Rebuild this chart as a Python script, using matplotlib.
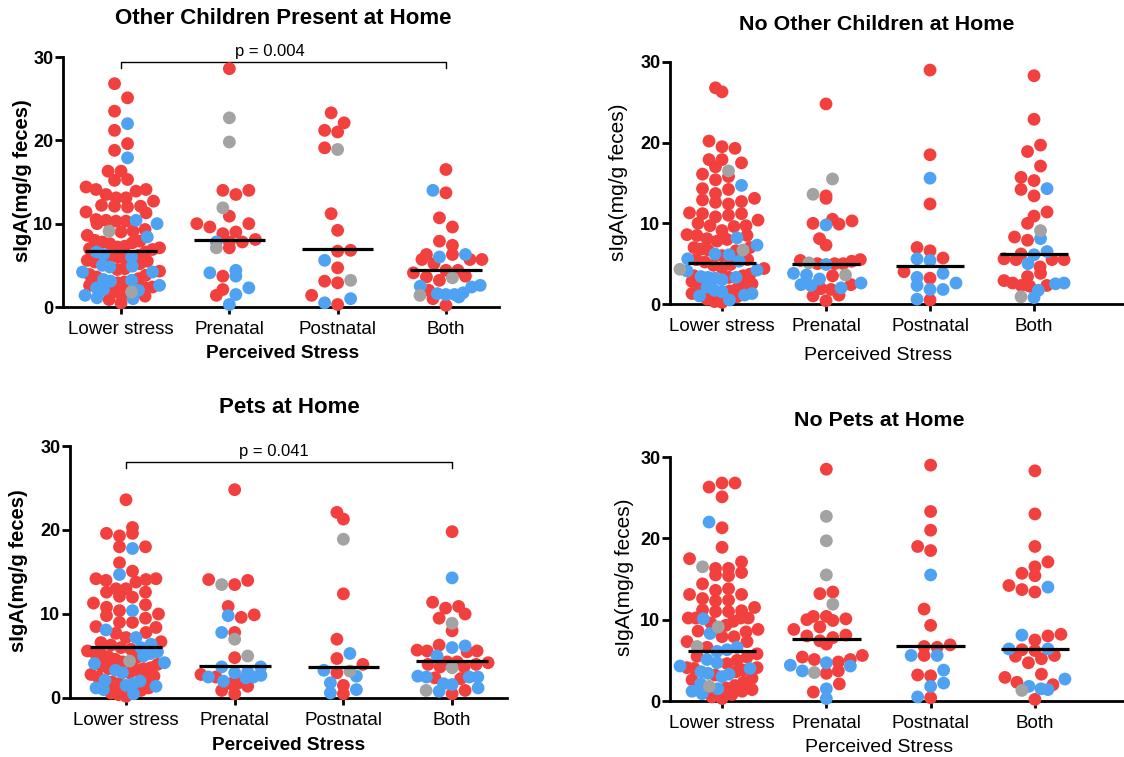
import numpy as np
import matplotlib
matplotlib.use('Agg')
import matplotlib.pyplot as plt

plt.rcParams['font.family'] = ['Liberation Sans', 'DejaVu Sans']

categories = ['Lower stress', 'Prenatal', 'Postnatal', 'Both']

# ---- values (sIgA, mg/g feces), one list per stress group ----
# Other children present at home
kids_red = [
    [26.8, 25.1, 23.5, 21.2, 19.6, 18.8, 16.3, 16.3, 15.3, 15.2, 14.4, 14.1, 13.9, 14.1, 13.5,
     13.1, 12.7, 13.1, 12.2, 12.1, 12.0, 12.1, 11.4, 11.3, 10.5, 10.4, 10.3, 10.3, 10.0, 9.3,
     9.1, 9.0, 8.6, 8.0, 7.9, 7.8, 7.7, 7.6, 7.3, 7.2, 7.1, 7.0, 6.9, 6.6, 6.2, 6.0, 6.1, 5.8,
     5.6, 5.5, 5.4, 5.2, 4.6, 4.5, 4.3, 3.9, 3.8, 3.6, 3.4, 3.0, 2.9, 2.6, 2.4, 2.3, 1.9, 1.8,
     1.6, 1.3, 0.9, 0.5],
    [28.6, 14.0, 13.5, 14.0, 10.9, 10.0, 10.0, 9.6, 9.0, 8.8, 8.1, 7.8, 7.8, 7.1, 3.7, 2.1, 1.4],
    [23.3, 22.1, 21.0, 21.2, 19.1, 11.2, 9.2, 6.8, 6.7, 4.7, 3.1, 2.9, 1.4, 0.3],
    [16.5, 13.7, 10.7, 9.6, 7.9, 7.4, 6.3, 6.3, 5.7, 5.7, 5.7, 5.2, 4.4, 4.4, 4.1, 3.7, 3.6,
     3.2, 2.0, 1.0, 0.2],
]
kids_blue = [
    [22.0, 17.9, 10.4, 10.0, 8.4, 6.6, 6.3, 6.0, 5.0, 4.9, 4.8, 4.2, 4.2, 3.3, 3.2, 3.1, 2.6,
     2.3, 2.1, 2.0, 1.4, 1.1, 1.0],
    [7.8, 4.1, 3.7, 4.4, 2.3, 1.5, 0.3],
    [5.6, 1.0, 0.5],
    [14.0, 6.0, 6.3, 2.6, 2.4, 2.5, 1.6, 1.5, 1.2, 1.5, 1.7],
]
kids_gray = [[9.1, 1.8], [22.7, 19.8, 11.9, 7.1], [18.9, 3.2], [3.5, 1.4]]
kids_median = [6.7, 8.0, 7.0, 4.4]

# No other children at home
nokids_red = [
    [26.8, 26.3, 20.2, 19.5, 19.3, 17.9, 17.9, 17.5, 17.0, 16.1, 15.8, 15.4, 14.3, 14.2, 13.7,
     13.1, 12.9, 12.7, 12.6, 12.4, 11.2, 11.2, 11.0, 11.3, 10.8, 10.4, 10.0, 9.7, 9.7, 9.6,
     9.1, 8.6, 8.0, 8.1, 8.5, 8.5, 7.8, 7.0, 6.7, 6.6, 6.8, 7.0, 6.0, 5.5, 5.5, 5.2, 4.9, 4.8,
     4.5, 4.4, 3.5, 3.3, 3.5, 3.7, 2.5, 2.4, 2.3, 2.8, 1.6, 1.3, 1.9, 0.6, 0.3, 0.9, 0.2],
    [24.8, 13.4, 13.1, 10.5, 10.3, 10.0, 9.9, 8.1, 7.3, 5.4, 5.0, 5.0, 5.0, 5.3, 5.5, 3.5,
     2.4, 1.8, 1.9, 1.1, 1.0, 0.4],
    [29.0, 18.5, 12.4, 7.0, 5.7, 6.6, 3.2, 4.0, 0.5],
    [28.3, 22.9, 19.7, 18.9, 17.1, 15.7, 15.3, 14.2, 13.4, 11.4, 10.9, 10.0, 7.9, 8.3, 6.2,
     5.5, 5.5, 4.6, 5.5, 5.6, 3.8, 3.4, 2.9, 2.3, 2.2, 2.3, 2.6],
]
nokids_blue = [
    [14.7, 8.2, 7.3, 6.2, 6.1, 5.6, 5.3, 4.1, 4.2, 3.3, 3.0, 3.2, 3.3, 3.4, 2.1, 1.5, 1.0,
     1.1, 1.3, 1.7, 0.5],
    [9.8, 4.9, 3.6, 3.8, 3.1, 2.3, 2.4, 2.6, 2.0],
    [15.6, 5.4, 5.6, 3.8, 2.6, 3.3, 2.3, 1.8, 1.8, 0.6],
    [14.3, 8.1, 6.5, 6.1, 5.0, 2.5, 2.6, 1.7, 0.8],
]
nokids_gray = [[16.5, 6.7, 4.3], [15.5, 13.6, 5.1, 3.6], [], [9.1, 0.9]]
nokids_median = [5.1, 4.9, 4.7, 6.2]

# Pets at home
pets_red = [
    [23.6, 20.3, 19.6, 19.3, 19.6, 18.0, 18.0, 16.1, 15.1, 14.2, 14.0, 13.8, 14.1, 14.2, 13.0,
     12.6, 12.0, 12.1, 12.6, 13.0, 11.1, 10.0, 9.8, 10.4, 10.8, 11.3, 9.0, 8.5, 7.7, 7.8, 8.4,
     9.0, 9.5, 7.2, 6.6, 6.7, 6.3, 6.0, 5.6, 4.8, 4.3, 3.6, 3.5, 3.3, 3.5, 2.5, 2.6, 1.7, 0.2,
     0.6, 0.4, 5.8, 5.4, 5.2, 4.9, 4.6, 4.0, 3.8, 3.0, 2.8, 2.4, 1.9, 1.2, 0.9],
    [24.8, 14.1, 13.5, 14.0, 10.9, 9.9, 9.6, 7.8, 4.8, 2.8, 2.5, 1.8, 1.4, 1.7, 0.9, 0.5],
    [22.1, 21.3, 12.4, 7.0, 4.7, 4.0, 3.0, 1.5, 0.5],
    [19.8, 11.4, 10.9, 10.7, 10.0, 9.5, 8.0, 6.3, 5.6, 5.5, 5.6, 5.7, 4.3, 4.3, 4.0, 4.0, 3.7,
     3.7, 4.2, 2.4, 2.3, 0.5, 0.9],
]
pets_blue = [
    [17.8, 14.7, 10.4, 8.1, 7.2, 6.4, 6.0, 5.3, 5.0, 5.5, 4.2, 4.1, 3.0, 3.3, 2.1, 2.0, 1.7,
     1.5, 1.2, 1.0, 1.4, 0.5],
    [9.8, 7.8, 3.7, 3.7, 3.1, 2.7, 2.5, 2.4, 2.5, 3.0, 2.0],
    [5.3, 3.3, 2.6, 1.8, 1.0, 0.6],
    [14.3, 6.0, 6.2, 5.0, 2.6, 2.5, 2.5, 2.5, 1.7, 1.2, 1.6, 0.8],
]
pets_gray = [[4.4], [13.5, 7.0, 5.0], [18.9, 3.2], [8.9, 3.6, 0.9]]
pets_median = [6.1, 3.8, 3.7, 4.4]

# No pets at home
nopets_red = [
    [26.8, 26.3, 26.8, 25.1, 21.3, 18.9, 17.5, 17.1, 16.3, 16.3, 15.8, 15.4, 15.5, 14.4, 13.8,
     13.6, 13.1, 13.1, 12.6, 12.4, 12.3, 11.5, 11.2, 11.0, 11.1, 11.0, 10.2, 10.2, 10.2, 10.2,
     9.8, 9.6, 9.3, 8.8, 8.6, 8.5, 7.9, 7.9, 7.3, 7.3, 6.6, 5.5, 5.4, 4.1, 4.1, 4.0, 3.6, 2.3,
     0.5, 0.8, 1.2, 1.6, 5.8, 5.0, 4.6, 3.8, 3.2, 2.8, 2.6, 1.9, 1.4, 0.3],
    [28.5, 13.2, 13.4, 10.4, 10.0, 9.9, 10.1, 10.4, 8.8, 9.1, 8.1, 7.8, 8.0, 7.4, 7.0, 5.4,
     5.1, 4.8, 5.1, 5.6, 3.7, 3.4, 2.1, 1.1],
    [29.0, 23.3, 21.0, 18.5, 19.0, 11.3, 9.3, 6.7, 6.6, 6.9, 5.6, 3.1, 3.2, 0.4],
    [28.3, 23.0, 19.0, 17.1, 16.5, 15.7, 15.4, 14.2, 13.7, 13.4, 8.2, 8.0, 7.5, 6.2, 5.5, 6.3,
     5.6, 5.2, 4.7, 2.9, 3.3, 2.3, 2.0, 0.2],
]
nopets_blue = [
    [22.0, 10.1, 8.3, 6.6, 6.3, 6.1, 5.1, 4.7, 4.0, 4.3, 3.6, 3.4, 3.0, 3.3, 2.1, 1.5, 1.2, 0.9],
    [4.7, 4.3, 4.4, 3.7, 1.5, 0.3],
    [15.5, 5.6, 5.6, 3.8, 1.8, 2.2, 0.5],
    [14.0, 8.1, 6.4, 6.4, 2.7, 1.8, 1.4, 1.5],
]
nopets_gray = [[16.5, 9.1, 6.7, 1.8], [22.7, 19.7, 15.5, 11.9, 3.5], [], [1.3]]
nopets_median = [6.1, 7.6, 6.8, 6.4]

RED = '#F2403F'
BLUE = '#4FA1F2'
GRAY = '#A3A3A3'

W, H = 1124, 757
DOT = 13.0    # dot diameter in pixels
REACH = 17.0  # rows try to keep this far from the dots below them


def slot_sets(n):
    # possible horizontal slot patterns (in units of one step) for a row of n points
    out = []
    for half in (0.0, 0.5):
        for first in (-1, 1):
            s = []
            m = half
            if half == 0.0:
                s.append(0.0)
                m = 1.0
            while len(s) < n:
                s += [first * m, -first * m]
                m += 1
            out.append(s[:n])
    return out


def rows(ypix, binh, maxw):
    # Prism-like column scatter: points binned into rows, lowest of a row in the middle,
    # the others alternating outwards; each row takes the pattern that crowds the rows
    # below it the least
    xs = np.zeros(len(ypix))
    bins = np.floor(ypix / binh)
    placed = []
    for bv in np.unique(bins):
        idx = np.where(bins == bv)[0]
        idx = idx[np.argsort(ypix[idx], kind='stable')]
        n = len(idx)
        step = DOT if n < 2 else float(np.clip(maxw / (n - 1), 7.0, DOT))
        best, best_cost = None, None
        for slots in slot_sets(n):
            cand = np.array(slots) * step
            cost = 0.002 * np.sum(np.abs(cand))
            for x, i in zip(cand, idx):
                for j in placed:
                    dy = ypix[i] - ypix[j]
                    if abs(dy) < REACH:
                        cost += max(0.0, REACH - np.hypot(x - xs[j], dy))
            if best_cost is None or cost < best_cost - 1e-9:
                best, best_cost = cand, cost
        xs[idx] = best
        placed += list(idx)
    return xs


def px(x, y):
    return x / W, 1 - y / H


fig = plt.figure(figsize=(W / 100, H / 100), dpi=100)

# rect (pixels: left, top, right, bottom), xlim, title, title xy, xlabel xy, ylabel xy, bold labels, p-value
panels = [
    (kids_red, kids_blue, kids_gray, kids_median, (63, 57, 499, 307), (-0.536, 3.49),
     'Other Children Present at Home', (283, 19), (283, 353), (23, 181), True,
     ('p = 0.004', 1.37, 30.7, 29.4, 28.7)),
    (nokids_red, nokids_blue, nokids_gray, nokids_median, (670, 62, 1124, 304), (-0.5, 3.865),
     'No Other Children at Home', (877, 25), (878, 355), (618, 182), False, None),
    (pets_red, pets_blue, pets_gray, pets_median, (70, 446, 507, 698), (-0.515, 3.505),
     'Pets at Home', (289, 407), (289, 746), (19, 571), True,
     ('p = 0.041', 1.36, 29.4, 28.1, 27.4)),
    (nopets_red, nopets_blue, nopets_gray, nopets_median, (670, 457, 1124, 701), (-0.499, 3.854),
     'No Pets at Home', (879, 420), (879, 747), (625, 577), False, None),
]

for red, blue, gray, med, box, xlim, title, tpos, xlpos, ylpos, bold, pval in panels:
    l, t, r, b = box
    ax = fig.add_axes([l / W, 1 - b / H, (r - l) / W, (b - t) / H])
    ax.set_xlim(xlim)
    ax.set_ylim(0, 30)
    for s in ['top', 'right']:
        ax.spines[s].set_visible(False)
    for s in ['left', 'bottom']:
        ax.spines[s].set_linewidth(2)
    ax.set_yticks([0, 10, 20, 30])
    ax.set_xticks(range(4))
    ax.set_xticklabels(categories)
    ax.tick_params(axis='y', length=6, width=2, labelsize=13, pad=1)
    ax.tick_params(axis='x', length=5, width=2, labelsize=13.5, pad=5)
    for lab in ax.get_yticklabels():
        lab.set_fontweight('bold')

    y0 = ax.transData.transform((0, 0))[1]
    for k in range(4):
        vals = np.array(red[k] + blue[k] + gray[k], dtype=float)
        cols = [RED] * len(red[k]) + [BLUE] * len(blue[k]) + [GRAY] * len(gray[k])
        pts = ax.transData.transform(np.column_stack([np.full(len(vals), k), vals]))
        off = rows(pts[:, 1] - y0, 12.0, 60.0)
        xs = ax.transData.inverted().transform(np.column_stack([pts[:, 0] + off, pts[:, 1]]))[:, 0]
        ax.scatter(xs, vals, s=85, c=cols, linewidths=0, zorder=3, clip_on=False)
        ax.hlines(med[k], k - 0.33, k + 0.33, color='black', lw=2.3, zorder=4)

    if pval is not None:
        txt, tx, ty, yl, yd = pval
        ax.plot([0, 0, 3, 3], [yd, yl, yl, yd], color='black', lw=1, clip_on=False)
        ax.text(tx, ty, txt, ha='center', va='center', fontsize=12)

    if bold:
        fig.text(*px(*tpos), title, ha='center', va='center', fontsize=16, fontweight='bold')
        fig.text(*px(*xlpos), 'Perceived Stress', ha='center', va='center', fontsize=13.7,
                 fontweight='bold')
        fig.text(*px(*ylpos), 'sIgA(mg/g feces)', ha='center', va='center', fontsize=14.5,
                 fontweight='bold', rotation=90)
    else:
        fig.text(*px(*tpos), title, ha='center', va='center', fontsize=15.4, fontweight='bold')
        fig.text(*px(*xlpos), 'Perceived Stress', ha='center', va='center', fontsize=14)
        fig.text(*px(*ylpos), 'sIgA(mg/g feces)', ha='center', va='center', fontsize=15,
                 rotation=90)

plt.savefig('out.png', dpi=100)
